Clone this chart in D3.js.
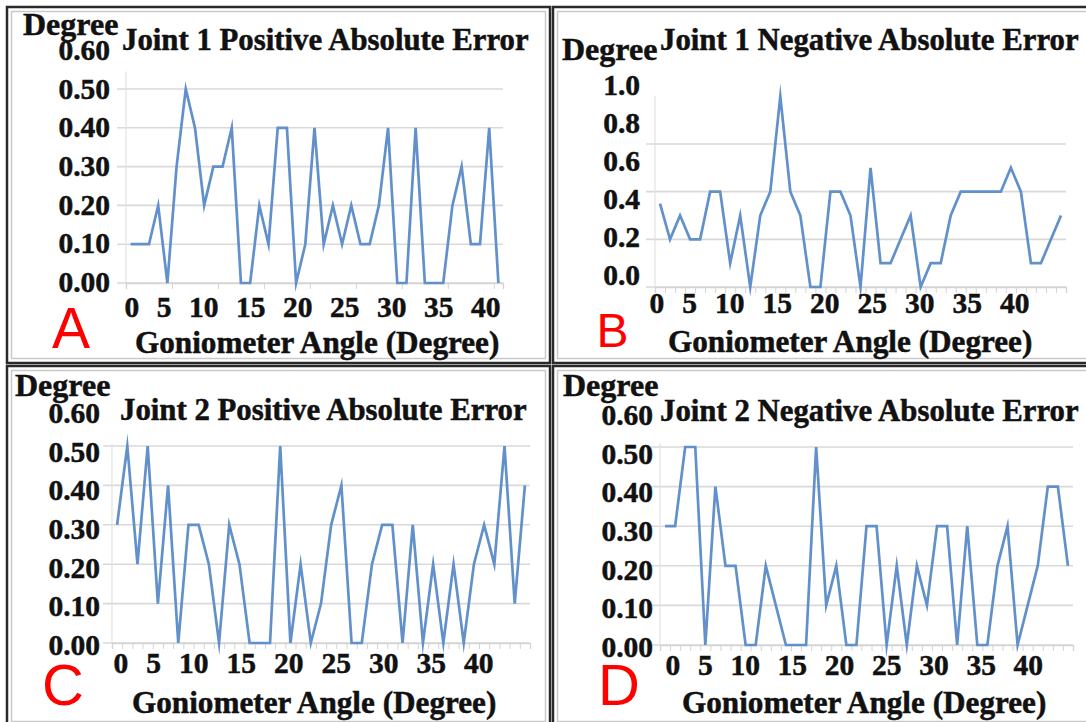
<!DOCTYPE html>
<html><head><meta charset="utf-8">
<script src="https://cdn.jsdelivr.net/npm/d3@7"></script>
<style>
html,body{margin:0;padding:0;background:#fff;}
svg{display:block;}
text.t{font-family:"Liberation Serif","Times New Roman",serif;font-weight:bold;fill:#111;stroke:#111;stroke-width:0.5px;}
text.letter{font-family:"Liberation Sans",Arial,sans-serif;font-weight:normal;fill:#ff0000;}
</style></head><body>
<svg id="chart" width="1086" height="722"></svg>
<script>
// ---------- data ----------
const angles = [0,1,2,3,4,5,6,7,8,9,10,11,12,13,14,15,16,17,18,19,20,21,22,23,24,25,26,27,28,29,30,31,32,33,34,35,36,37,38,39,40];
const xTickLabels = ["0","5","10","15","20","25","30","35","40"];
const yTickLabelsFine = ["0.00","0.10","0.20","0.30","0.40","0.50","0.60"];
const yTickLabelsCoarse = ["0.0","0.2","0.4","0.6","0.8","1.0"];
const gridFine = [0,0.1,0.2,0.3,0.4,0.5];
const gridCoarse = [0,0.2,0.4,0.6];
const joint1Positive = [0.1,0.1,0.1,0.2,0,0.3,0.5,0.4,0.2,0.3,0.3,0.4,0,0,0.2,0.1,0.4,0.4,0,0.1,0.4,0.1,0.2,0.1,0.2,0.1,0.1,0.2,0.4,0,0,0.4,0,0,0,0.2,0.3,0.1,0.1,0.4,0];
const joint1Negative = [0.35,0.2,0.3,0.2,0.2,0.4,0.4,0.1,0.3,0,0.3,0.4,0.8,0.4,0.3,0,0,0.4,0.4,0.3,0,0.5,0.1,0.1,0.2,0.3,0,0.1,0.1,0.3,0.4,0.4,0.4,0.4,0.4,0.5,0.4,0.1,0.1,0.2,0.3];
const joint2Positive = [0.3,0.5,0.2,0.5,0.1,0.4,0,0.3,0.3,0.2,0,0.3,0.2,0,0,0,0.5,0,0.2,0,0.1,0.3,0.4,0,0,0.2,0.3,0.3,0,0.3,0,0.2,0,0.2,0,0.2,0.3,0.2,0.5,0.1,0.4];
const joint2Negative = [0.3,0.3,0.5,0.5,0,0.4,0.2,0.2,0,0,0.2,0.1,0,0,0,0.5,0.1,0.2,0,0,0.3,0.3,0,0.2,0,0.2,0.1,0.3,0.3,0,0.3,0,0,0.2,0.3,0,0.1,0.2,0.4,0.4,0.2];
const titles = ["Joint 1 Positive Absolute Error","Joint 1 Negative Absolute Error","Joint 2 Positive Absolute Error","Joint 2 Negative Absolute Error"];
const panelLetters = ["A","B","C","D"];
const yAxisTitle = "Degree";
const xAxisTitle = "Goniometer Angle (Degree)";

// ---------- layout (positions/styles only) ----------
const layouts = [
  {frame:[7,7,550,363], xr:[126,503], yd:[0,0.5], yr:[283,89], yTop:0.545, grid:gridFine, yLabels:yTickLabelsFine,
   yLab:{right:110,c0:282,step:38.7}, xLab:{x:124.5,y:317,gap:17.5}, tickEvery:5,
   title:[122,50], deg:[23,35], gon:[135,353], letter:[52,348,57]},
  {frame:[553,7,1092,363], xr:[655,1066], yd:[0,0.6], yr:[287,144], yTop:0.8, grid:gridCoarse, yLabels:yTickLabelsCoarse,
   yLab:{right:640,c0:275,step:38}, xLab:{x:649.5,y:313,gap:18}, tickEvery:1,
   title:[660,50], deg:[562,60], gon:[668,352], letter:[596.5,347,48]},
  {frame:[7,366,550,726], xr:[112,530], yd:[0,0.5], yr:[643,446], yTop:0.505, grid:gridFine, yLabels:yTickLabelsFine,
   yLab:{right:100,c0:645,step:38.7}, xLab:{x:113.5,y:673,gap:18}, tickEvery:1,
   title:[120,420], deg:[15,396], gon:[132,713], letter:[42,705,58]},
  {frame:[553,366,1092,726], xr:[660,1073], yd:[0,0.5], yr:[645,447], yTop:0.51, grid:gridFine, yLabels:yTickLabelsFine,
   yLab:{right:653,c0:647,step:38.7}, xLab:{x:665.5,y:675,gap:17.7}, tickEvery:1,
   title:[660,421], deg:[563,396], gon:[682,713], letter:[598,705,58]}
];
const seriesList = [joint1Positive, joint1Negative, joint2Positive, joint2Negative];

const svg = d3.select("#chart");
svg.append("rect").attr("width",1086).attr("height",722).attr("fill","#fff");

seriesList.forEach((values, i) => {
  const L = layouts[i];
  const g = svg.append("g");
  const [fx0,fy0,fx1,fy1] = L.frame;
  // frames
  g.append("rect").attr("x",fx0).attr("y",fy0).attr("width",fx1-fx0).attr("height",fy1-fy0)
    .attr("fill","#fff").attr("stroke","#2a2a2a").attr("stroke-width",2.5);
  g.append("rect").attr("x",fx0+4.5).attr("y",fy0+4.5).attr("width",fx1-fx0-9).attr("height",fy1-fy0-9)
    .attr("fill","none").attr("stroke","#c9c9c9").attr("stroke-width",1.5);

  const x = d3.scaleLinear().domain([-0.5,40.5]).range(L.xr);
  const y = d3.scaleLinear().domain(L.yd).range(L.yr);

  // gridlines
  g.selectAll("line.grid").data(L.grid).enter().append("line")
    .attr("x1",L.xr[0]-9).attr("x2",L.xr[1])
    .attr("y1",d=>y(d)).attr("y2",d=>y(d))
    .attr("stroke","#d9d9d9").attr("stroke-width",1.6);
  // vertical axis line
  g.append("line").attr("x1",L.xr[0]).attr("x2",L.xr[0]).attr("y1",y(0)).attr("y2",y(L.yTop))
    .attr("stroke","#e2e2e2").attr("stroke-width",1.2);
  // x axis ticks (between categories)
  const tickVals = [];
  for (let k = -0.5; k <= 40.5; k += L.tickEvery) tickVals.push(k);
  if (tickVals[tickVals.length-1] !== 40.5) tickVals.push(40.5);
  const xAxis = d3.axisBottom(x).tickValues(tickVals).tickSize(6).tickFormat("");
  const ax = g.append("g").attr("transform",`translate(0,${y(0)})`).call(xAxis);
  ax.select(".domain").attr("stroke","#d4d4d4").attr("stroke-width",1.4);
  ax.selectAll(".tick line").attr("stroke","#d4d4d4").attr("stroke-width",1);

  // line
  const line = d3.line().x((d,j)=>x(angles[j])).y(d=>y(d));
  g.append("path").datum(values).attr("d",line)
    .attr("fill","none").attr("stroke","#6190cb").attr("stroke-width",2.7)
    .attr("stroke-linejoin","miter").attr("stroke-miterlimit",10);

  // y tick labels (text stack)
  const yl = d3.scaleLinear().domain([0,L.yLabels.length-1]).range([L.yLab.c0, L.yLab.c0 - L.yLab.step*(L.yLabels.length-1)]);
  g.selectAll("text.ylab").data(L.yLabels).enter().append("text")
    .attr("class","t ylab").attr("text-anchor","end")
    .attr("x",L.yLab.right).attr("y",(d,j)=>yl(j)+10)
    .style("font-size","29.5px").text(d=>d);

  // x tick labels (flowing text row)
  const xt = g.append("text").attr("class","t xlab").attr("x",L.xLab.x).attr("y",L.xLab.y).style("font-size","29.5px");
  xt.selectAll("tspan").data(xTickLabels).enter().append("tspan")
    .attr("dx",(d,j)=> j===0 ? 0 : L.xLab.gap).text(d=>d);

  // titles
  g.append("text").attr("class","t").attr("x",L.title[0]).attr("y",L.title[1]).style("font-size","30.8px").text(titles[i]);
  g.append("text").attr("class","t").attr("x",L.deg[0]).attr("y",L.deg[1]).style("font-size","32px").text(yAxisTitle);
  g.append("text").attr("class","t").attr("x",L.gon[0]).attr("y",L.gon[1]).style("font-size","31.2px").text(xAxisTitle);
  g.append("text").attr("class","letter").attr("x",L.letter[0]).attr("y",L.letter[1]).style("font-size",L.letter[2]+"px").text(panelLetters[i]);
});
</script>
</body></html>
